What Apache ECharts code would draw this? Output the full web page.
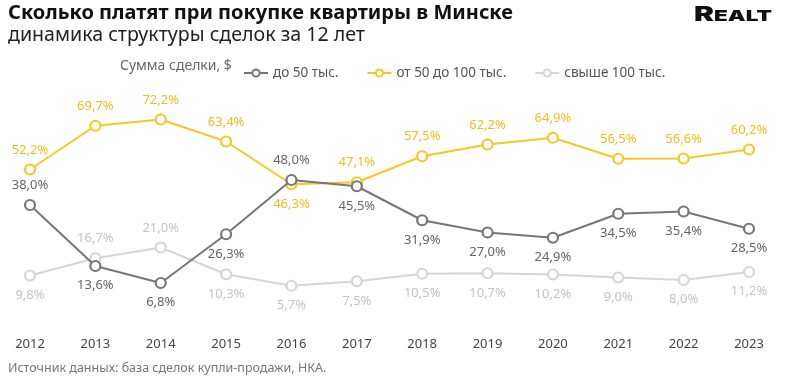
<!DOCTYPE html>
<html><head><meta charset="utf-8">
<script src="https://cdn.jsdelivr.net/npm/echarts@6/dist/echarts.min.js"></script>
<style>html,body{margin:0;padding:0;background:#fff}#c{width:785px;height:383px}</style>
</head><body><div id="c"></div>
<script>
const years = ['2012','2013','2014','2015','2016','2017','2018','2019','2020','2021','2022','2023'];
const under50 = [38.0,13.6,6.8,26.3,48.0,45.5,31.9,27.0,24.9,34.5,35.4,28.5];
const from50to100 = [52.2,69.7,72.2,63.4,46.3,47.1,57.5,62.2,64.9,56.5,56.6,60.2];
const over100 = [9.8,16.7,21.0,10.3,5.7,7.5,10.5,10.7,10.2,9.0,8.0,11.2];
const under50Pos = ['top','bottom','bottom','bottom','top','bottom','bottom','bottom','bottom','bottom','bottom','bottom'];
const midPos = ['top','top','top','top','bottom','top','top','top','top','top','top','top'];
const overPos = ['bottom','top','top','bottom','bottom','bottom','bottom','bottom','bottom','bottom','bottom','bottom'];
const names = ['до 50 тыс.','от 50 до 100 тыс.','свыше 100 тыс.'];
const colors = ['#777777','#f9c623','#d6d6d6'];
const labelColors = ['#666666','#f0bd1a','#c4c4c4'];
const FONT = '"Noto Sans", sans-serif';
const fmt = v => v.toFixed(1).replace('.', ',') + '%';

function mk(i, vals, pos) {
  return {
    name: names[i], type: 'line', data: vals.map((v,k)=>({value:v, label:{position:pos[k]}})),
    color: colors[i],
    symbol: 'circle', symbolSize: 10, showSymbol: true,
    lineStyle: {color: colors[i], width: 2},
    itemStyle: {color: '#fff', borderColor: colors[i], borderWidth: 2.2},
    label: {show: true, formatter: p => fmt(p.value), color: labelColors[i], fontSize: 13, fontFamily: FONT, distance: 7},
    z: 3 - i
  };
}
const chart = echarts.init(document.getElementById('c'));
chart.setOption({
  animation: false,
  textStyle: {fontFamily: FONT},
  grid: {left: 30, right: 36, top: 100, bottom: 83},
  xAxis: {type: 'category', data: years, boundaryGap: false,
    axisLine: {show: false}, axisTick: {show: false},
    axisLabel: {color: '#444', fontSize: 13, margin: 38, fontFamily: FONT}},
  yAxis: {type: 'value', min: 0, max: 80, show: false, splitLine: {show: false}},
  legend: {left: 238, top: 61, itemGap: 28, itemWidth: 24, itemHeight: 9,
    data: names.map((n,i) => ({name: n,
      itemStyle: {color: '#fff', borderColor: colors[i], borderWidth: 2},
      lineStyle: {color: colors[i], width: 2}})),
    textStyle: {color: '#555', fontSize: 13.5, fontFamily: FONT}},
  graphic: [
    {type: 'text', left: 8, top: 3, style: {text: 'Сколько платят при покупке квартиры в Минске', font: 'bold 20px ' + FONT, fill: '#111'}},
    {type: 'text', left: 8, top: 25, style: {text: 'динамика структуры сделок за 12 лет', font: '19.6px ' + FONT, fill: '#222'}},
    {type: 'text', left: 120, top: 59, style: {text: 'Сумма сделки, $', font: '14px ' + FONT, fill: '#666'}},
    {type: 'text', x: 694, y: 5, scaleX: 1.5, style: {text: '{a|R}{b|EALT}', rich: {a: {fontSize: 20, fontWeight: 900, fontFamily: 'Inter'}, b: {fontSize: 15, fontWeight: 900, fontFamily: 'Inter', padding:[3,0,0,0]}}, fill:'#111'}},
    {type: 'text', left: 8, top: 362, style: {text: 'Источник данных: база сделок купли-продажи, НКА.', font: '12.5px ' + FONT, fill: '#777'}}
  ],
  series: [mk(0, under50, under50Pos), mk(1, from50to100, midPos), mk(2, over100, overPos)]
});
</script></body></html>
